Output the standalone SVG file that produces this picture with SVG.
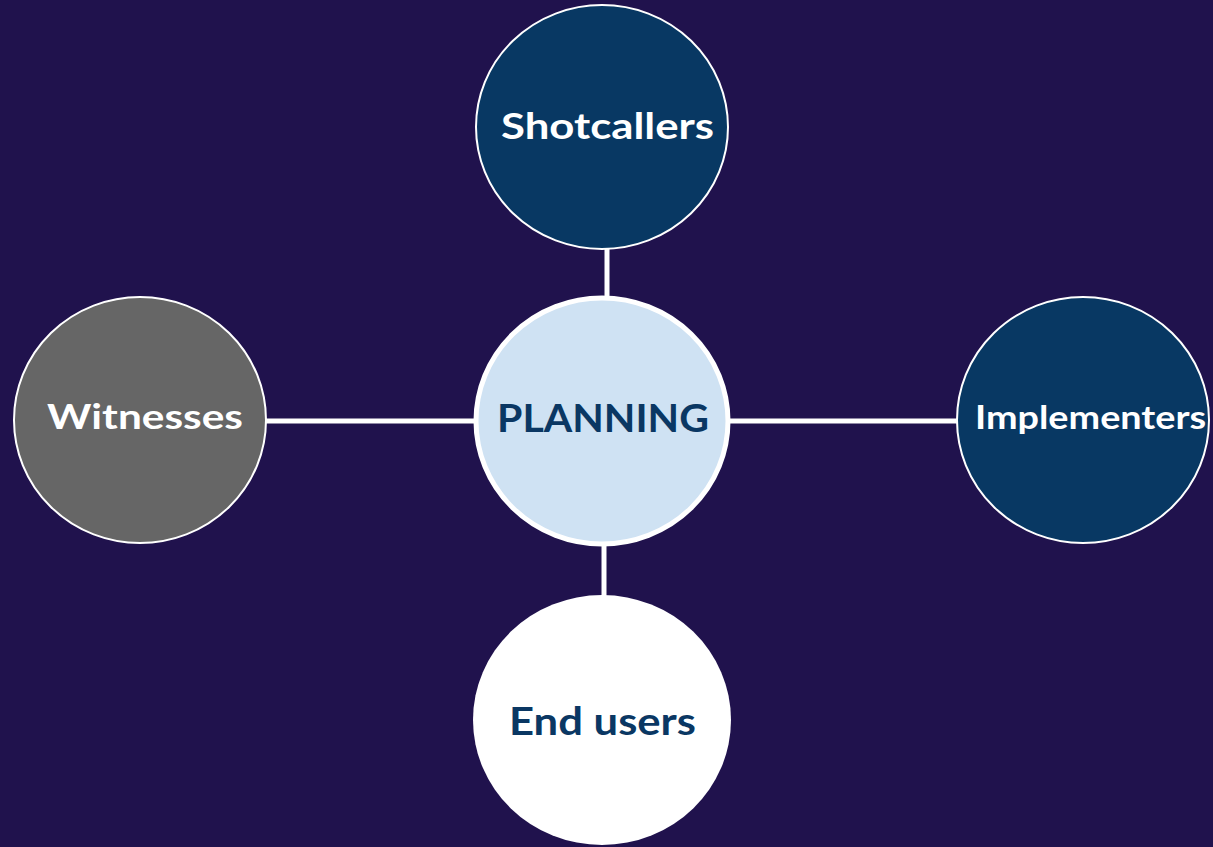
<svg xmlns="http://www.w3.org/2000/svg" width="1213" height="847" viewBox="0 0 1213 847">
<style>
.bg{fill:#20124d}
.conn line{stroke:#ffffff;stroke-width:5}
.n{stroke:#ffffff;stroke-width:2}
.t{font-family:Lato,"Liberation Sans",sans-serif;font-weight:bold;text-anchor:middle}
.w{fill:#ffffff}
.d{fill:#0a3763}
</style>
<rect class="bg" x="0" y="0" width="1213" height="847"/>
<g id="connectors" class="conn">
<line x1="607" y1="248" x2="607" y2="297"/>
<line x1="604" y1="545" x2="604" y2="597"/>
<line x1="266" y1="421" x2="475" y2="421"/>
<line x1="729" y1="421" x2="957" y2="421"/>
</g>
<g id="shotcallers">
<ellipse class="n" cx="602" cy="127" rx="126" ry="122" fill="#083863"/>
<text class="t w" x="607.5" y="139" font-size="37" textLength="213" lengthAdjust="spacingAndGlyphs">Shotcallers</text>
</g>
<g id="witnesses">
<ellipse class="n" cx="140" cy="420" rx="126" ry="123" fill="#666666"/>
<text class="t w" x="145" y="429" font-size="35" textLength="196" lengthAdjust="spacingAndGlyphs">Witnesses</text>
</g>
<g id="implementers">
<ellipse class="n" cx="1083" cy="420" rx="126" ry="123" fill="#083863"/>
<text class="t w" x="1090.5" y="429" font-size="32" textLength="231" lengthAdjust="spacingAndGlyphs">Implementers</text>
</g>
<g id="planning">
<ellipse cx="602" cy="421" rx="126" ry="123" fill="#cfe2f3" stroke="#ffffff" stroke-width="5"/>
<text class="t d" x="603" y="432" font-size="39" textLength="212" lengthAdjust="spacingAndGlyphs">PLANNING</text>
</g>
<g id="endusers">
<ellipse cx="602" cy="720" rx="129" ry="125" fill="#ffffff"/>
<text class="t d" x="602.5" y="735" font-size="39" textLength="187" lengthAdjust="spacingAndGlyphs">End users</text>
</g>
</svg>
